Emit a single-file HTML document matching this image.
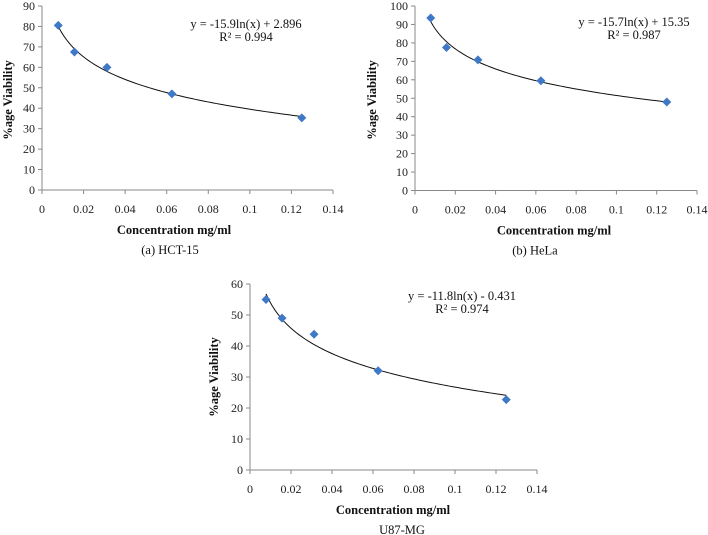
<!DOCTYPE html>
<html><head><meta charset="utf-8"><style>
body{margin:0;background:#fff;}
svg{display:block;font-family:"Liberation Serif",serif;}
</style></head><body>
<svg id="fig" width="708" height="535" viewBox="0 0 708 535" xmlns="http://www.w3.org/2000/svg"></svg>
<script>
const concentrations = [0.0078125, 0.015625, 0.03125, 0.0625, 0.125];
const hctValues = [80.5, 67.5, 60, 47, 35.3];
const helaValues = [93.5, 77.5, 70.8, 59.5, 48];
const u87Values = [55, 49, 43.8, 32, 22.7];
const xTicks = [0, 0.02, 0.04, 0.06, 0.08, 0.1, 0.12, 0.14];
const xTickLabels = ["0", "0.02", "0.04", "0.06", "0.08", "0.1", "0.12", "0.14"];
const hctFit = [-15.9, 2.896];
const helaFit = [-15.7, 15.35];
const u87Fit = [-11.8, -0.431];
const hctYTicks = [0,10,20,30,40,50,60,70,80,90];
const helaYTicks = [0,10,20,30,40,50,60,70,80,90,100];
const u87YTicks = [0,10,20,30,40,50,60];

const NS = "http://www.w3.org/2000/svg";
const svg = document.getElementById('fig');
function mk(tag, attrs, parent, text){
  const e = document.createElementNS(NS, tag);
  for (const k in attrs) e.setAttribute(k, attrs[k]);
  if (text !== undefined) e.textContent = text;
  (parent || svg).appendChild(e);
  return e;
}

function chart(cfg){
  const g = mk('g', {});
  
  
  const yMax = cfg.yTicks[cfg.yTicks.length-1];
  const sx = v => cfg.x0 + (v/0.14)*(cfg.x1-cfg.x0);
  const sy = v => cfg.y0 - (v/yMax)*(cfg.y0-cfg.y1);
  // axes
  const ya = mk('line', {x1:cfg.x0,y1:cfg.y1,x2:cfg.x0,y2:cfg.y0,stroke:'#888','stroke-width':1}, g);
  
  
  const xa = mk('line', {x1:cfg.x0,y1:cfg.y0,x2:cfg.x1,y2:cfg.y0,stroke:'#888','stroke-width':1}, g);
  
  
  cfg.yTicks.forEach(t=>{
    const y = sy(t);
    mk('line',{x1:cfg.x0-4,y1:y,x2:cfg.x0,y2:y,stroke:'#888'},g);
    const tl = mk('text',{x:cfg.x0-7,y:y+4,'text-anchor':'end','font-size':12,fill:'#222'},g,String(t));
    
    
  });
  xTicks.forEach((t,i)=>{
    const x = sx(t);
    mk('line',{x1:x,y1:cfg.y0,x2:x,y2:cfg.y0+4,stroke:'#888'},g);
    const tl = mk('text',{x:x,y:cfg.y0+23,'text-anchor':'middle','font-size':12,fill:'#222'},g,xTickLabels[i]);
    
    
  });
  // trendline
  let d = '';
  const xa0 = concentrations[0], xa1 = concentrations[concentrations.length-1];
  for (let i=0;i<=80;i++){
    const xv = xa0 + (xa1-xa0)*i/80;
    const yv = cfg.fit[0]*Math.log(xv) + cfg.fit[1];
    d += (i?'L':'M') + sx(xv).toFixed(2) + ' ' + sy(yv).toFixed(2);
  }
  const tr = mk('path',{d:d,fill:'none',stroke:'#111','stroke-width':1},g);
  
  
  // points
  cfg.values.forEach((v,i)=>{
    const x = sx(concentrations[i]), y = sy(v);
    const p = mk('polygon',{points:`${x},${y-4.5} ${x+4.5},${y} ${x},${y+4.5} ${x-4.5},${y}`,fill:'#3f78c6'},g);
    
    
  });
  // equation
  const eq = mk('text',{x:cfg.eqx,y:cfg.eqy,'text-anchor':'middle','font-size':12.5,fill:'#111'},g,cfg.eq);
  
  
  const r2 = mk('text',{x:cfg.eqx,y:cfg.eqy+13,'text-anchor':'middle','font-size':12.5,fill:'#111'},g,cfg.r2);
  
  
  // titles
  const xt = mk('text',{x:cfg.xtx,y:cfg.y0+44,'text-anchor':'middle','font-size':12.5,'font-weight':'bold',fill:'#111'},g,'Concentration mg/ml');
  
  
  const yt = mk('text',{x:0,y:0,'text-anchor':'middle','font-size':12.5,'font-weight':'bold',fill:'#111',transform:`translate(${cfg.ytx},${cfg.yty}) rotate(-90)`},g,'%age Viability');
  
  
  const cp = mk('text',{x:cfg.capx,y:cfg.y0+64,'text-anchor':'middle','font-size':12.5,fill:'#111'},g,cfg.caption);
  
  
}

chart({name:'hct15-chart',x0:42,x1:333,y0:190,y1:6,yTicks:hctYTicks,values:hctValues,fit:hctFit,
  eq:'y = -15.9ln(x) + 2.896',r2:'R² = 0.994',eqx:246,eqy:28,xtx:174,ytx:12,yty:100,capx:170,caption:'(a) HCT-15'});
chart({name:'hela-chart',x0:415,x1:697,y0:190.5,y1:6,yTicks:helaYTicks,values:helaValues,fit:helaFit,
  eq:'y = -15.7ln(x) + 15.35',r2:'R² = 0.987',eqx:634,eqy:26,xtx:554,ytx:376,yty:100,capx:535,caption:'(b) HeLa'});
chart({name:'u87mg-chart',x0:250,x1:537,y0:470,y1:284,yTicks:u87YTicks,values:u87Values,fit:u87Fit,
  eq:'y = -11.8ln(x)  - 0.431',r2:'R² = 0.974',eqx:462,eqy:300,xtx:393,ytx:218,yty:377,capx:402,caption:'U87-MG'});
</script>
</body></html>
